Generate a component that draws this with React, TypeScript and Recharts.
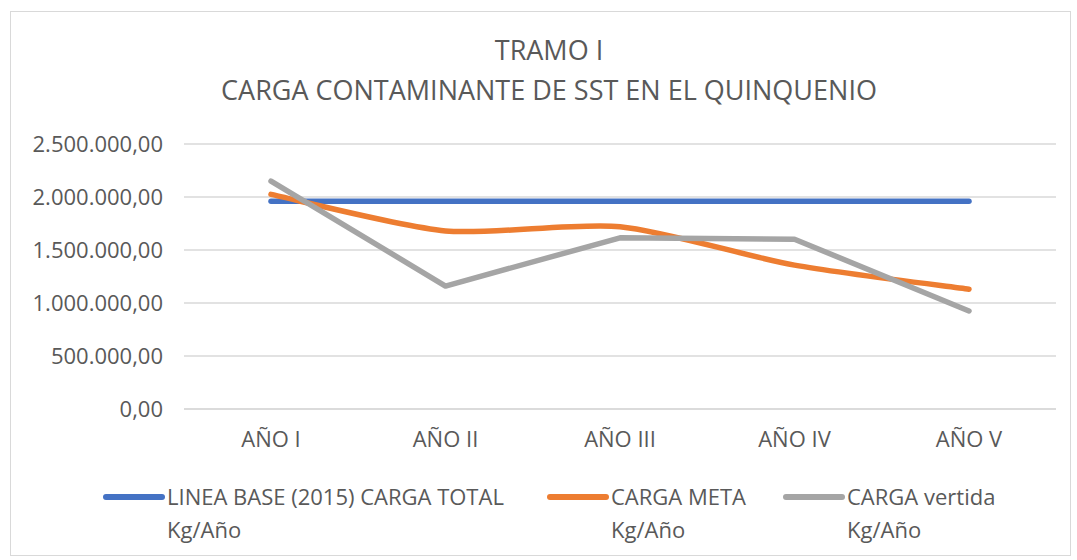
import { LineChart, Line, XAxis, YAxis, CartesianGrid, Legend } from "recharts"

const years = ["AÑO I", "AÑO II", "AÑO III", "AÑO IV", "AÑO V"]
const lineaBase = [1960000, 1960000, 1960000, 1960000, 1960000]
const cargaMeta = [2025000, 1680000, 1720000, 1357000, 1130000]
const cargaVertida = [2150000, 1160000, 1615000, 1602000, 925000]
const yTicks = [0, 500000, 1000000, 1500000, 2000000, 2500000]

const data = years.map((year, i) => ({
  year,
  base: lineaBase[i],
  meta: cargaMeta[i],
  vertida: cargaVertida[i],
}))

const FONT = "'Open Sans', sans-serif"
const TEXT = "#595959"

function formatEs(n: number) {
  const s = Math.round(n).toString().replace(/\B(?=(\d{3})+(?!\d))/g, ".")
  return s + ",00"
}

// Excel-style smoothed line (Catmull-Rom-ish cubic beziers, a bit tighter)
function smoothCurve(context: any) {
  let pts: number[][] = []
  const k = 8
  return {
    areaStart() {},
    areaEnd() {},
    lineStart() { pts = [] },
    point(x: number, y: number) { pts.push([+x, +y]) },
    lineEnd() {
      if (!pts.length) return
      context.moveTo(pts[0][0], pts[0][1])
      for (let i = 0; i < pts.length - 1; i++) {
        const p0 = pts[i - 1] || pts[i]
        const p1 = pts[i]
        const p2 = pts[i + 1]
        const p3 = pts[i + 2] || pts[i + 1]
        context.bezierCurveTo(
          p1[0] + (p2[0] - p0[0]) / k, p1[1] + (p2[1] - p0[1]) / k,
          p2[0] - (p3[0] - p1[0]) / k, p2[1] - (p3[1] - p1[1]) / k,
          p2[0], p2[1]
        )
      }
    },
  }
}

// legend slot per series
const legendLeft: Record<string, number> = { base: 103, meta: 547, vertida: 783 }

function renderLegend(props: any) {
  const payload = props.payload || []
  return (
    <div style={{ position: "relative", width: 1077, height: 80 }}>
      {payload.map((entry: any) => (
        <div key={entry.value} style={{ position: "absolute", left: legendLeft[entry.dataKey] ?? 0, top: 0 }}>
          <div style={{ position: "absolute", left: 0, top: 14, width: 62, height: 6, borderRadius: 3, background: entry.color }} />
          <div style={{
            position: "absolute", left: 64, top: 0, fontSize: 22, lineHeight: "33px", color: TEXT,
            fontFamily: FONT, whiteSpace: "pre", textAlign: "left",
          }}>
            {String(entry.value).replace(" Kg/Año", "\nKg/Año")}
          </div>
        </div>
      ))}
    </div>
  )
}

export default function App() {
  return (
    <div style={{ position: "absolute", left: 0, top: 0, width: 1077, height: 560, background: "#fff" }}>
      <div style={{ position: "absolute", left: 10, top: 11, width: 1059, height: 543, border: "1px solid #d9d9d9" }} />
      <div style={{
        position: "absolute", left: 0, top: 30, width: 1098, textAlign: "center", fontFamily: FONT,
        fontSize: 27, lineHeight: "40px", color: TEXT,
      }}>
        <div>TRAMO I</div>
        <div>CARGA CONTAMINANTE DE SST EN EL QUINQUENIO</div>
      </div>
      <div style={{ position: "absolute", left: 0, top: 0 }}>
        <LineChart
          width={1077}
          height={560}
          data={data}
          margin={{ top: 144, right: 21, bottom: 121, left: 10 }}
          style={{ fontFamily: FONT }}
        >
          <CartesianGrid vertical={false} stroke="#d9d9d9" strokeWidth={1.5} />
          <XAxis
            dataKey="year"
            height={30}
            padding={{ left: 87, right: 87 }}
            axisLine={{ stroke: "#d9d9d9", strokeWidth: 1.5 }}
            tickLine={false}
            tickSize={0}
            tickMargin={22}
            tick={{ fontSize: 22, fill: TEXT }}
          />
          <YAxis
            width={174}
            domain={[0, 2500000]}
            ticks={yTicks}
            tickFormatter={formatEs}
            axisLine={false}
            tickLine={false}
            tickSize={0}
            tickMargin={21}
            tick={{ fontSize: 22, fill: TEXT }}
          />
          <Legend
            layout="horizontal"
            verticalAlign="middle"
            align="center"
            content={renderLegend}
            wrapperStyle={{ left: 0, top: 480, width: 1077, height: 80 }}
          />
          <Line type="linear" dataKey="base" name="LINEA BASE (2015) CARGA TOTAL Kg/Año" stroke="#4472c4" strokeWidth={5.5} strokeLinecap="round" dot={false} isAnimationActive={false} />
          <Line type={smoothCurve as any} dataKey="meta" name="CARGA META Kg/Año" stroke="#ed7d31" strokeWidth={5.5} strokeLinecap="round" dot={false} isAnimationActive={false} />
          <Line type="linear" dataKey="vertida" name="CARGA vertida Kg/Año" stroke="#a5a5a5" strokeWidth={5.5} strokeLinecap="round" strokeLinejoin="round" dot={false} isAnimationActive={false} />
        </LineChart>
      </div>
    </div>
  )
}
